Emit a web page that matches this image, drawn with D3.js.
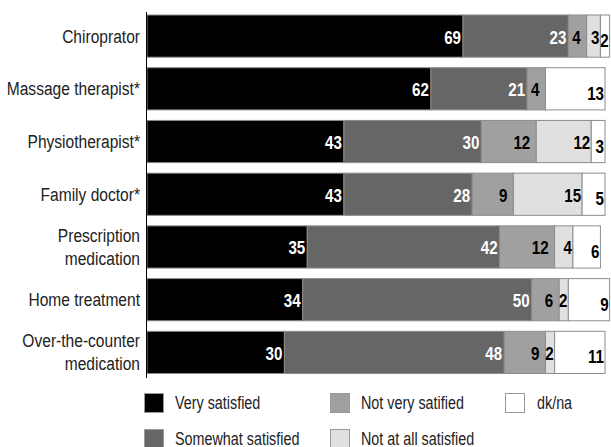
<!DOCTYPE html>
<html>
<head>
<meta charset="utf-8">
<script src="https://cdn.jsdelivr.net/npm/d3@7"></script>
<style>
  body { margin: 0; background: #fff; }
  text { font-family: "Liberation Sans", Arial, sans-serif; }
</style>
</head>
<body>
<div id="chart"></div>
<script>
var categories = [
  ["Chiroprator"],
  ["Massage therapist*"],
  ["Physiotherapist*"],
  ["Family doctor*"],
  ["Prescription", "medication"],
  ["Home treatment"],
  ["Over-the-counter", "medication"]
];
var series = ["Very satisfied", "Somewhat satisfied", "Not very satified", "Not at all satisfied", "dk/na"];
var verySatisfied     = [69, 62, 43, 43, 35, 34, 30];
var somewhatSatisfied = [23, 21, 30, 28, 42, 50, 48];
var notVerySatisfied  = [4, 4, 12, 9, 12, 6, 9];
var notAtAllSatisfied = [3, 0, 12, 15, 4, 2, 2];
var dkNa              = [2, 13, 3, 5, 6, 9, 11];

var values = [verySatisfied, somewhatSatisfied, notVerySatisfied, notAtAllSatisfied, dkNa];
var fills = ["#000000", "#666666", "#a0a0a0", "#e0e0e0", "#ffffff"];
var labelColors = ["#ffffff", "#ffffff", "#000000", "#000000", "#000000"];
var labelInset = [2, 2, 6, 1, 1];
var labelDy = [7.5, 7.5, 7.5, 7.5, 11];

var width = 611, height = 447;
var squeeze = 0.82;   // condensed look

var svg = d3.select("#chart").append("svg")
    .attr("width", width)
    .attr("height", height);

var x = d3.scaleLinear()
    .domain([0, 100])
    .range([147, 605]);

var y = d3.scaleBand()
    .domain(d3.range(categories.length))
    .range([15, 373.5])
    .paddingInner(0.2)
    .paddingOuter(0);

var bh = y.bandwidth();

var segments = d3.merge(categories.map(function(c, i) {
  var acc = 0;
  return values.map(function(v, s) {
    var seg = {row: i, series: s, value: v[i], x0: acc, x1: acc + v[i]};
    acc += v[i];
    return seg;
  });
})).filter(function(d) { return d.value > 0; });

svg.selectAll(".seg")
    .data(segments)
  .enter().append("rect")
    .attr("class", "seg")
    .attr("x", function(d) { return x(d.x0); })
    .attr("y", function(d) { return y(d.row); })
    .attr("width", function(d) { return x(d.x1) - x(d.x0); })
    .attr("height", bh)
    .style("fill", function(d) { return fills[d.series]; })
    .style("stroke", "#8c8c8c")
    .style("stroke-width", 1);

svg.selectAll(".val")
    .data(segments)
  .enter().append("text")
    .attr("class", "val")
    .attr("transform", function(d) {
      return "translate(" + (x(d.x1) - labelInset[d.series]) + "," + (y(d.row) + bh / 2 + labelDy[d.series]) + ") scale(" + squeeze + ",1)";
    })
    .style("text-anchor", "end")
    .style("font-weight", "bold")
    .style("font-size", "18.5px")
    .style("fill", function(d) { return labelColors[d.series]; })
    .text(function(d) { return d.value; });

// category labels
var cat = svg.selectAll(".cat")
    .data(categories)
  .enter().append("text")
    .attr("class", "cat")
    .attr("transform", function(d, i) {
      return "translate(140," + (y(i) + bh / 2 + 6.5 - (d.length - 1) * 11.5) + ") scale(" + squeeze + ",1)";
    })
    .style("text-anchor", "end")
    .style("font-size", "19px")
    .style("fill", "#222");

cat.selectAll("tspan")
    .data(function(d) { return d; })
  .enter().append("tspan")
    .attr("x", 0)
    .attr("dy", function(d, j) { return j === 0 ? 0 : 23; })
    .text(function(d) { return d; });

// axis line
svg.append("line")
    .attr("x1", 146.5).attr("x2", 146.5)
    .attr("y1", 12).attr("y2", 378)
    .style("stroke", "#000")
    .style("stroke-width", 1);

// legend
var legendPos = [[144, 393], [144, 429], [330, 393], [330, 429], [505, 393]];
var legend = svg.selectAll(".legend")
    .data(series)
  .enter().append("g")
    .attr("class", "legend")
    .attr("transform", function(d, i) { return "translate(" + legendPos[i][0] + "," + legendPos[i][1] + ")"; });

legend.append("rect")
    .attr("x", 0.5)
    .attr("y", 0.5)
    .attr("width", 19)
    .attr("height", 19)
    .style("fill", function(d, i) { return fills[i]; })
    .style("stroke", "#999")
    .style("stroke-width", 1);

legend.append("text")
    .attr("transform", function(d, i) { return "translate(" + (i === 4 ? 32 : 31) + ",16) scale(" + squeeze + ",1)"; })
    .style("font-size", "17.5px")
    .style("fill", "#222")
    .text(function(d) { return d; });
</script>
</body>
</html>
